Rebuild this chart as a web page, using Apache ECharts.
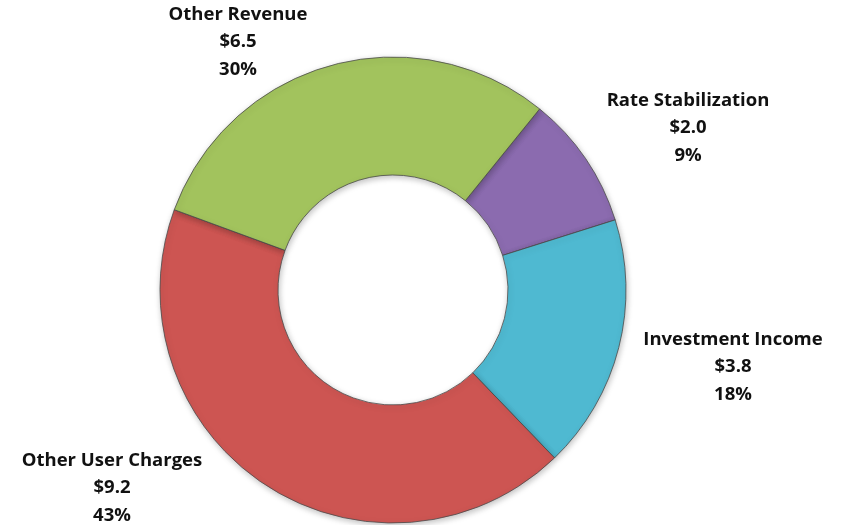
<!DOCTYPE html>
<html>
<head>
<meta charset="utf-8">
<script src="https://cdn.jsdelivr.net/npm/echarts@6/dist/echarts.min.js"></script>
<style>
  html, body { margin: 0; padding: 0; background: #fff; }
  #revenuePie { width: 842px; height: 525px; }
</style>
</head>
<body>
<div id="revenuePie"></div>
<script>
// revenue sources, $ millions
var categories = ['Rate Stabilization', 'Investment Income', 'Other User Charges', 'Other Revenue'];
var amounts = [2.0, 3.8, 9.2, 6.5];
var percents = [9, 18, 43, 30];
var sliceColors = ['#8B6BAF', '#4FB9D1', '#CD5552', '#A2C35D'];

// where each label block sits (centre of the 3 lines)
var labelSpots = [[688, 128], [733, 367], [112, 488], [238, 42]];

var chart = echarts.init(document.getElementById('revenuePie'));

var pieData = categories.map(function (name, i) {
	return {
		name: name,
		value: amounts[i],
		itemStyle: { color: sliceColors[i] }
	};
});

var option = {
	animation: false,
	series: [
		{
			type: 'pie',
			center: [393, 290],
			radius: [115, 233],
			startAngle: 51,
			clockwise: true,
			data: pieData,
			itemStyle: {
				borderColor: '#4a4a4a',
				borderWidth: 0.8,
				shadowColor: 'rgba(0,0,0,0.25)',
				shadowBlur: 6,
				shadowOffsetX: 1,
				shadowOffsetY: 2
			},
			label: {
				show: true,
				position: 'inside',
				overflow: 'none',
				formatter: function (p) {
					var v = '$' + amounts[p.dataIndex].toFixed(1);
					return '{t|' + p.name + '}\n{t|' + v + '}\n{t|' + percents[p.dataIndex] + '%}';
				},
				rich: {
					t: {
						fontFamily: 'Open Sans',
						fontWeight: 'bold',
						fontSize: 18.5,
						color: '#111',
						lineHeight: 27.5,
						align: 'center'
					}
				}
			},
			labelLine: { show: false },
			labelLayout: function (p) {
				var s = labelSpots[p.dataIndex];
				return { x: s[0], y: s[1], align: 'center', verticalAlign: 'middle', rotate: 0 };
			},
			emphasis: { disabled: true }
		}
	]
};

chart.setOption(option, true);
</script>
</body>
</html>
